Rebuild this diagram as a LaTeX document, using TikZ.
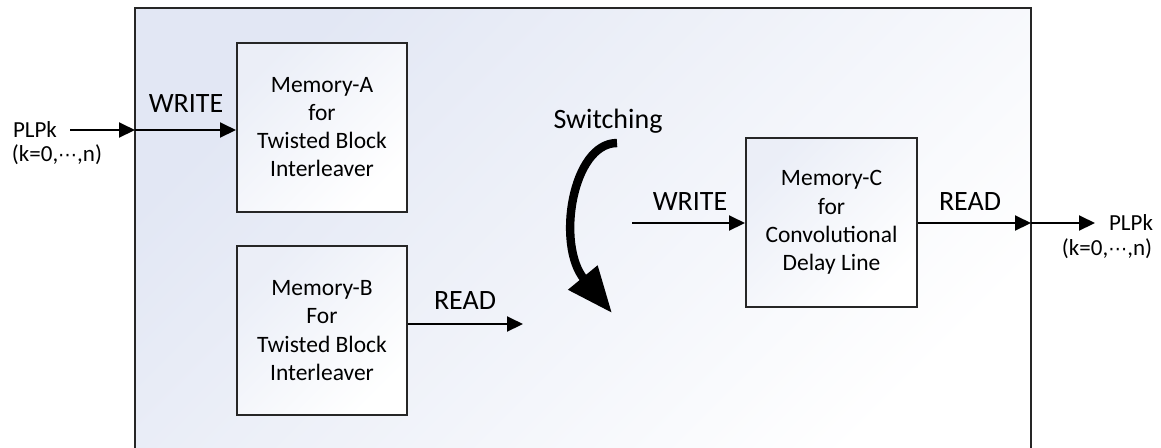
\documentclass[tikz,border=0pt]{standalone}
\usepackage{fontspec}
\setmainfont{Carlito}
\newfontfamily\dvfont{DejaVu Sans}
\usetikzlibrary{arrows.meta}
\definecolor{gradc}{RGB}{226,231,244}
\newcommand{\mydots}{{\dvfont\fontsize{9.5}{11}\selectfont ⋯}}
\begin{document}
\begin{tikzpicture}[x=0.5pt,y=-0.5pt,
  mem/.style={draw=black!85, line width=1pt, rectangle, minimum width=85pt, minimum height=84.5pt,
    align=center, font=\fontsize{11.75}{14.15}\selectfont, inner sep=0pt,
    top color=gradc!70, bottom color=white, shading angle=45},
  lbl/.style={font=\fontsize{14}{17}\selectfont, inner sep=0pt},
  io/.style={font=\fontsize{11.5}{14}\selectfont, inner sep=0pt},
  arr/.style={line width=1pt, -{Triangle[length=8pt,width=7.5pt]}},
  sw/.style={line width=4.2pt, -{Triangle[length=23pt,width=18pt]}}
]
\useasboundingbox (0,0) rectangle (1161,447);
\begin{scope}
\clip (0,0) rectangle (1161,447);
\path[top color=gradc, bottom color=white, shading angle=45] (135,8) rectangle (1031,470);
\draw[line width=1pt, draw=black!85] (135,470) -- (135,8) -- (1031,8) -- (1031,470);
\end{scope}

\node[mem] (A) at (322,127) {Memory-A\\for\\Twisted Block\\Interleaver};
\node[mem] (B) at (322,330.5) {Memory-B\\For\\Twisted Block\\Interleaver};
\node[mem, minimum width=85.5pt] (C) at (831.5,222.5) {Memory-C\\for\\Convolutional\\Delay Line};

\coordinate (inL) at (70,130);
\coordinate (edgeL) at (135,130);
\draw[arr] (inL) -- (edgeL);
\draw[arr] (edgeL) -- (A.west |- edgeL);

\coordinate (bout) at (523,324);
\draw[arr] (B.east |- bout) -- (bout);

\coordinate (cin) at (632,223);
\draw[arr] (cin) -- (C.west |- cin);

\coordinate (edgeR) at (1031,223);
\coordinate (outR) at (1095,223);
\draw[arr] (C.east |- edgeR) -- (edgeR);
\draw[arr] (edgeR) -- (outR);

\node[lbl] (w1) at (186,104) {WRITE};
\node[lbl] (r1) at (465,301) {READ};
\node[lbl] (w2) at (690,202) {WRITE};
\node[lbl] (r2) at (970,202) {READ};
\node[lbl] (swt) at (608,121) {Switching};

\node[io] (pin) at (35,129.5) {PLPk};
\node[io] (kin) at (57,155) {(k=0,\mydots,n)};
\node[io] (pout) at (1131,222.5) {PLPk};
\node[io] (kout) at (1107,249) {(k=0,\mydots,n)};

\coordinate (s1) at (617,143);
\coordinate (s2) at (612,313);
\draw[sw] (s1) .. controls (572,143) and (556,245) .. (s2);
\end{tikzpicture}
\end{document}
